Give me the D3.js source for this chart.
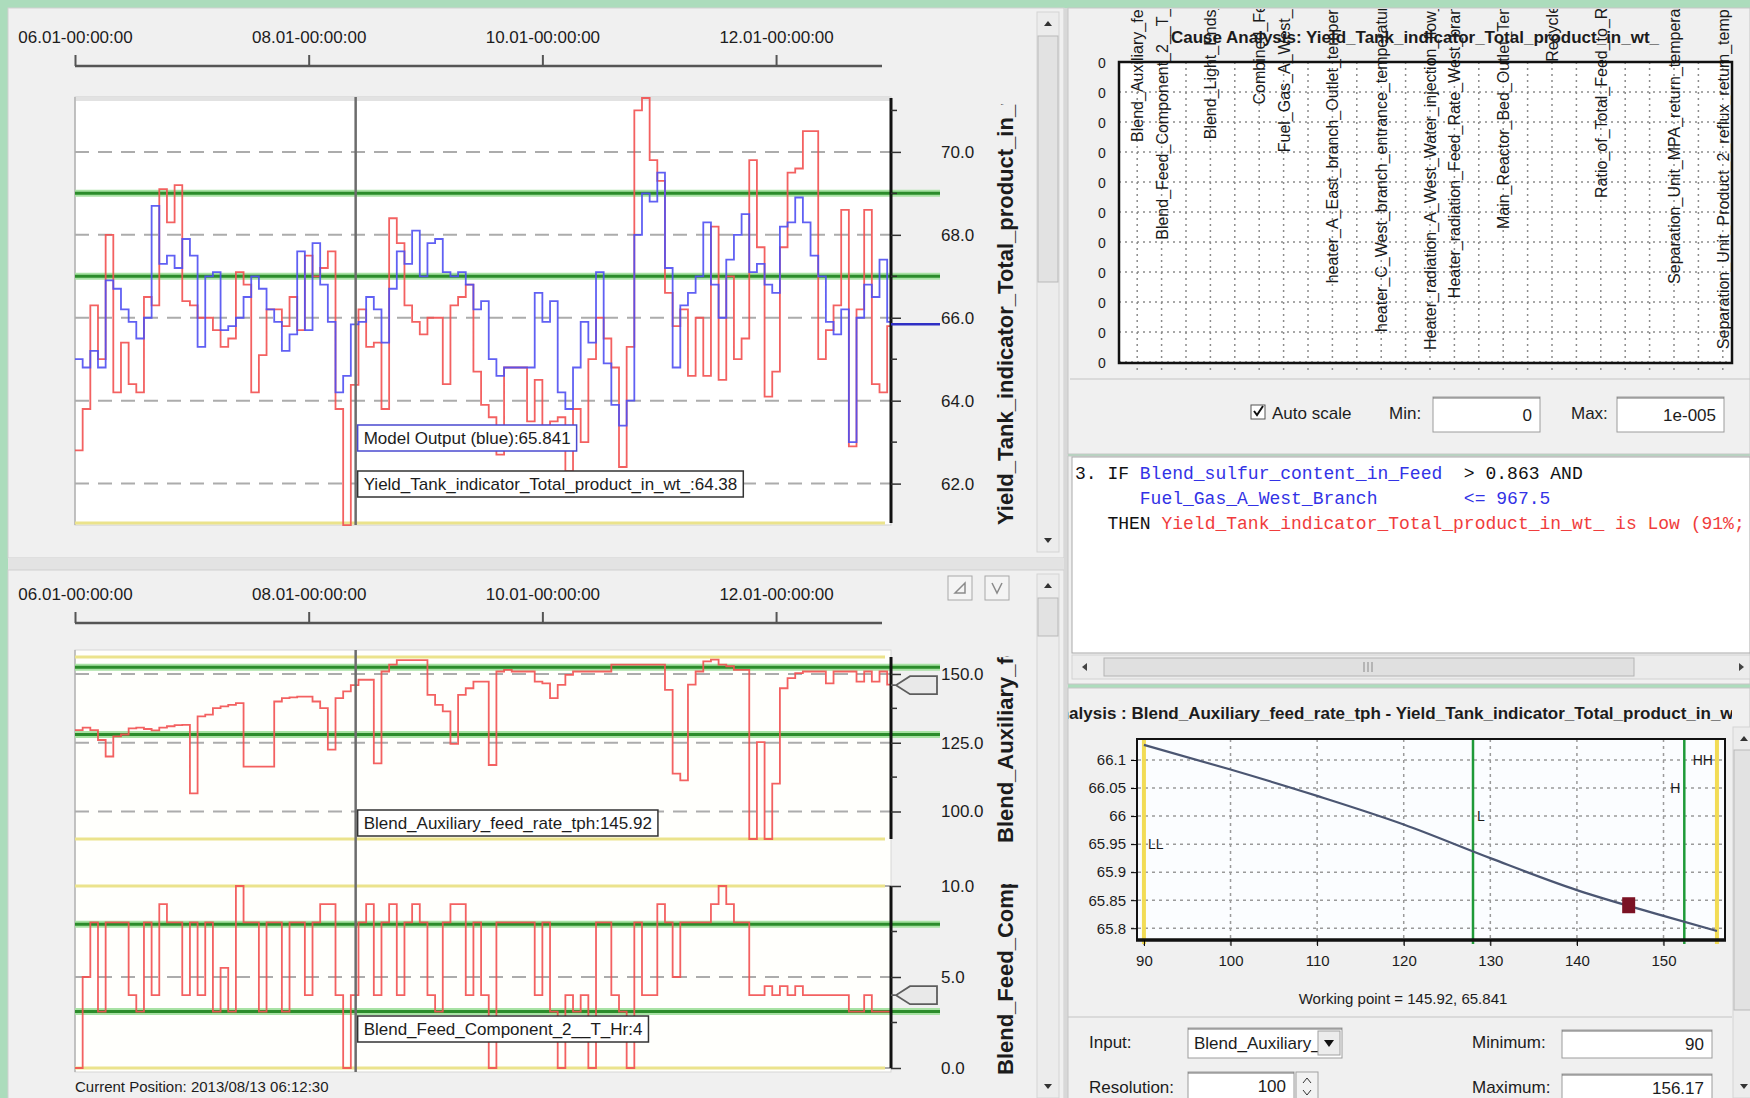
<!DOCTYPE html>
<html lang="en">
<head>
<meta charset="UTF-8">
<title>Yield Tank indicator - trends, cause and sensitivity analysis</title>
<script src="https://d3js.org/d3.v7.min.js"></script>
<style>
  body { margin: 0; background: #acdcbc; }
  svg { display: block; }
  .ui { font-family: "Liberation Sans Narrow", "Liberation Sans", Arial, sans-serif; font-size: 17px; fill: #1c1c1c; }
  .axis-title { font-family: "Liberation Sans", Arial, sans-serif; font-weight: bold; font-size: 22px; fill: #1c1c1c; }
  .head { font-family: "Liberation Sans Narrow", "Liberation Sans", Arial, sans-serif; font-weight: bold; font-size: 17px; fill: #1c1c1c; }
  .cause-label { font-family: "Liberation Sans", Arial, sans-serif; font-size: 16px; fill: #1a1a1a; }
  .rule { font-family: "Liberation Mono", "DejaVu Sans Mono", monospace; font-size: 18px; white-space: pre; }
</style>
</head>
<body>
<svg id="screen" width="1750" height="1098"></svg>
<script>
// ---------- values ----------
const trendStart = new Date(2013, 5, 1);
const trendEnd = new Date(2013, 11, 31);
const sampleDays = 2;                       // one value every 2 days
const cursorTime = new Date(2013, 7, 13, 6, 12, 30);
const timeTicks = [new Date(2013, 5, 1), new Date(2013, 7, 1), new Date(2013, 9, 1), new Date(2013, 11, 1)];

// Yield_Tank_indicator_Total_product_in_wt_ (red) and model output (blue)
const yieldActual = [
  62.8, 63.8, 66.3, 65.0, 68.0, 64.2, 65.4, 64.4, 64.2, 66.5,
  66.3, 69.1, 68.3, 69.2, 66.4, 66.3, 66.0, 66.0, 65.7, 65.3,
  65.5, 67.1, 66.8, 64.2, 65.1, 66.2, 66.2, 65.8, 66.5, 65.7,
  67.5, 67.0, 67.2, 67.6, 63.8, 61.0, 64.38, 66.2, 65.3, 65.4,
  63.8, 68.4, 67.8, 66.3, 65.9, 65.6, 66.0, 66.0, 64.4, 66.3,
  66.5, 66.8, 64.7, 63.9, 63.6, 62.7, 64.8, 64.8, 64.8, 63.5,
  64.5, 63.4, 63.5, 63.6, 62.3, 63.8, 63.0, 65.0, 66.0, 65.5,
  64.8, 62.4, 65.3, 71.0, 71.3, 69.8, 69.3, 66.6, 65.8, 66.2,
  64.6, 66.0, 64.6, 68.2, 64.5, 67.0, 65.0, 65.5, 69.8, 67.7,
  64.1, 64.7, 67.7, 69.5, 69.6, 70.5, 70.5, 65.0, 65.7, 66.3,
  68.6, 62.9, 66.2, 68.6, 64.4, 64.2, 65.8
];
const modelOutput = [
  65.0, 64.8, 65.2, 64.8, 66.9, 66.7, 66.2, 65.9, 65.5, 66.0,
  68.7, 67.3, 67.5, 67.2, 67.9, 67.5, 65.3, 67.0, 67.1, 65.7,
  65.8, 66.0, 66.5, 67.0, 66.7, 66.2, 65.9, 65.2, 65.6, 67.6,
  65.7, 67.8, 66.8, 65.9, 64.2, 64.6, 65.841, 65.9, 66.5, 66.2,
  65.4, 66.7, 67.6, 67.3, 68.1, 67.0, 67.8, 67.9, 67.1, 67.0,
  67.1, 66.8, 66.2, 66.4, 65.0, 64.6, 64.8, 64.8, 64.8, 64.8,
  66.6, 65.9, 66.4, 64.2, 63.8, 64.8, 65.9, 65.4, 67.1, 64.9,
  63.9, 63.4, 64.0, 68.0, 69.0, 68.8, 69.5, 67.2, 64.8, 66.3,
  66.6, 67.0, 68.3, 66.8, 66.0, 67.4, 68.0, 68.5, 67.1, 67.3,
  66.8, 66.6, 68.2, 68.3, 68.9, 68.3, 67.5, 67.0, 65.9, 65.6,
  66.2, 63.0, 66.0, 66.8, 66.5, 67.4, 65.9
];
// Blend_Auxiliary_feed_rate_tph
const auxFeedRate = [
  129.6, 130.5, 129.6, 126.0, 120.0, 127.3, 128.0, 130.2, 130.5, 130.0,
  129.5, 130.5, 131.0, 131.4, 131.5, 106.6, 134.6, 135.2, 137.6, 138.2,
  138.8, 139.4, 116.3, 116.3, 116.3, 116.3, 140.0, 141.2, 141.5, 141.8,
  141.8, 140.0, 137.6, 122.5, 141.2, 143.7, 145.92, 147.9, 147.9, 117.5,
  150.9, 153.4, 155.0, 155.0, 155.0, 155.0, 142.4, 138.8, 136.4, 124.6,
  142.4, 144.8, 147.2, 147.2, 116.9, 150.9, 151.5, 150.9, 150.9, 150.9,
  147.2, 146.6, 141.2, 146.0, 149.7, 150.9, 150.9, 150.9, 150.9, 150.9,
  153.4, 153.4, 153.4, 153.4, 153.4, 153.4, 153.4, 144.2, 113.8, 111.3,
  146.1, 150.9, 154.6, 155.2, 153.4, 152.8, 151.5, 151.5, 90.0, 125.2,
  90.0, 110.1, 144.8, 148.5, 150.3, 150.9, 150.9, 150.9, 146.6, 150.9,
  150.9, 150.9, 147.2, 150.9, 147.2, 150.9, 146.1
];
// Blend_Feed_Component_2__T_Hr
const feedComponent = [
  0, 5, 8, 3.1, 8, 8, 8, 4, 3.1, 8,
  4, 9, 8, 8, 4, 8, 4, 8, 3.1, 5.5,
  3.1, 10, 8, 8, 3.1, 8, 8, 3.1, 8, 8,
  4, 8, 9, 9, 4, 0, 4, 8, 9, 4,
  8, 9, 4, 8, 9, 8, 4, 3.1, 8, 9,
  9, 4, 8, 4, 0, 8, 8, 8, 8, 8,
  4, 8, 3.1, 0, 4, 3.1, 4, 0, 8, 8,
  4, 3.1, 0, 8, 4, 4, 9, 8, 5, 8,
  8, 8, 8, 9, 10, 9, 8, 8, 4, 4,
  4.5, 4, 4.5, 4, 4.5, 4, 4, 4, 4, 4,
  4, 3.1, 3.1, 4, 3.1, 3.1, 3.1
];

const yieldRange = [61.05, 71.3];
const yieldTicks = [62, 64, 66, 68, 70];
const yieldLimits = [67.0, 69.0];
const auxRange = [90, 156.17];
const auxTicks = [100, 125, 150];
const auxLimits = [128.0, 152.4];
const compRange = [0, 10];
const compTicks = [0, 5, 10];
const compLimits = [3.1, 7.9];

const modelAtCursor = 65.841;
const actualAtCursor = 64.38;
const auxAtCursor = 145.92;
const compAtCursor = 4;

// cause analysis (all contributions are 0, autoscale max 1e-005)
const causeVars = [
  "Blend_Auxiliary_feed_rate_tph", "Blend_Feed_Component_2__T_Hr_average", "Blend_H2S",
  "Blend_Light_Ends_Feed_ratio", "Blend_API", "Combined_Feed_Density", "Fuel_Gas_A_West_Branch_avg",
  "FG_B_Flow", "heater_A_East_branch_Outlet_temperature_mean", "Htr_B_O2",
  "heater_C_West_branch_entrance_temperature_deviation", "Htr_D_O2",
  "Heater_radiation_A_West_Water_injection_flow_rate_signal",
  "Heater_radiation_Feed_Rate_West_branch_setpoint", "H2_Makeup",
  "Main_Reactor_Bed_Outlet_Temperature_1", "Rx_dP", "Recycle_Gas_Flow", "Quench_F",
  "Ratio_of_Total_Feed_to_Recycle_Gas", "Reflux_R", "Sep_dP",
  "Separation_Unit_MPA_return_temperature_control", "Strip_Stm",
  "Separation_Unit_Product_2_reflux_return_temperature_avg"
];
const causeValues = causeVars.map(() => 0);
const causeMax = 1e-5;

// rule text
const ruleLines = [
  [["3. IF ", "#111"], ["Blend_sulfur_content_in_Feed", "#3232e6"], ["  > 0.863 AND", "#111"]],
  [["      ", "#111"], ["Fuel_Gas_A_West_Branch", "#3232e6"], ["        <= 967.5", "#3232e6"]],
  [["   THEN ", "#111"], ["Yield_Tank_indicator_Total_product_in_wt_ is Low (91%; 12 cases)", "#f03c3c"]]
];

// sensitivity of model output to Blend_Auxiliary_feed_rate_tph
const sensInput = [90, 100, 110, 120, 130, 140, 150, 156.17];
const sensOutput = [66.127, 66.083, 66.036, 65.985, 65.925, 65.868, 65.822, 65.795];
const sensXTicks = [90, 100, 110, 120, 130, 140, 150];
const sensYTicks = [65.8, 65.85, 65.9, 65.95, 66, 66.05, 66.1];
const limitNames = ["LL", "L", "H", "HH"];
const limitValues = [90, 128, 152.4, 156.17];
const limitLabelAt = [65.95, 66, 66.05, 66.1];
const workingPoint = [145.92, 65.841];

// ---------- screen ----------
const svg = d3.select("#screen");

function box(x, y, w, h, fill, stroke) {
  return svg.append("rect").attr("x", x).attr("y", y).attr("width", w).attr("height", h)
    .attr("fill", fill).attr("stroke", stroke || "none");
}
function label(x, y, t, cls, anchor) {
  return svg.append("text").attr("class", cls || "ui").attr("x", x).attr("y", y)
    .attr("text-anchor", anchor || "start").text(t);
}
function vScroll(x, y0, y1, t0, t1) {
  box(x, y0, 22, y1 - y0, "#ececec", "#d4d4d4");
  box(x + 1, t0, 20, t1 - t0, "#e2e2e2", "#b9b9b9");
  svg.append("path").attr("d", `M${x + 7},${y0 + 14}l4,-5l4,5z`).attr("fill", "#333");
  svg.append("path").attr("d", `M${x + 7},${y1 - 14}l4,5l4,-5z`).attr("fill", "#333");
}
function field(x, y, w, h, value) {
  box(x, y, w, h, "#fff", "#9c9c9c");
  svg.append("line").attr("x1", x).attr("x2", x + w).attr("y1", y + 1).attr("y2", y + 1).attr("stroke", "#6e6e6e");
  label(x + w - 8, y + h / 2 + 6, value, "ui", "end");
}

// panels
box(8, 8, 1056, 550, "#f0f0f0", "#cfcfcf");
box(8, 558, 1056, 12, "#e3e3e3");
box(8, 570, 1056, 530, "#f0f0f0", "#cfcfcf");
box(1064, 8, 4, 1092, "#d8d8d8");
box(1068, 8, 682, 446, "#f0f0f0", "#c6c6c6");
box(1068, 456, 682, 228, "#f0f0f0", "#c6c6c6");
box(1068, 688, 682, 412, "#f0f0f0", "#c6c6c6");

vScroll(1037, 12, 552, 36, 282);
vScroll(1037, 574, 1098, 598, 636);

// ---------- trends ----------
const x = d3.scaleTime().domain([trendStart, trendEnd]).range([75, 891]);
const cursorX = x(cursorTime);

function stepPoints(values) {
  const pts = values.map((v, i) => [d3.timeDay.offset(trendStart, i * sampleDays), v]);
  pts.push([trendEnd, values[values.length - 1]]);
  return pts;
}

function timeAxis(y) {
  const g = svg.append("g").attr("transform", `translate(0,${y})`)
    .call(d3.axisTop(x).tickValues(timeTicks).tickSize(11).tickPadding(12)
      .tickFormat(d3.timeFormat("%m.%d-%H:%M:%S")));
  g.attr("font-family", null).attr("font-size", null);
  g.select(".domain").remove();
  g.append("line").attr("x1", 75).attr("x2", 882).attr("stroke", "#555").attr("stroke-width", 2.5);
  g.selectAll(".tick line").attr("stroke", "#555").attr("stroke-width", 2);
  g.selectAll(".tick text").attr("class", "ui");
}

function axisTitle(text, cx, top, bottom) {
  const id = "clip-" + text.slice(0, 12);
  svg.append("clipPath").attr("id", id).append("rect")
    .attr("x", cx - 30).attr("y", top).attr("width", 50).attr("height", bottom - top);
  svg.append("g").attr("clip-path", `url(#${id})`).append("text")
    .attr("class", "axis-title")
    .attr("transform", `translate(${cx + 8},${bottom}) rotate(-90)`)
    .text(text);
}

function trend(o) {
  const y = d3.scaleLinear().domain(o.range).range([o.bottom, o.top]);
  const g = svg.append("g");
  const clipId = "clip-" + o.id;
  svg.append("clipPath").attr("id", clipId).append("rect")
    .attr("x", 75).attr("y", o.top - 3).attr("width", 816).attr("height", o.bottom - o.top + 6);

  g.selectAll(".grid").data(o.ticks).join("line")
    .attr("x1", 75).attr("x2", 891).attr("y1", y).attr("y2", y)
    .attr("stroke", "#acacac").attr("stroke-width", 2).attr("stroke-dasharray", "14,9");
  g.selectAll(".range").data(o.yellow).join("line")
    .attr("x1", 75).attr("x2", 885).attr("y1", y).attr("y2", y)
    .attr("stroke", "#ebe38c").attr("stroke-width", 3);
  g.selectAll(".halo").data(o.limits).join("line")
    .attr("x1", 75).attr("x2", 940).attr("y1", y).attr("y2", y)
    .attr("stroke", "#a8e2a4").attr("stroke-width", 7);
  g.selectAll(".limit").data(o.limits).join("line")
    .attr("x1", 75).attr("x2", 940).attr("y1", y).attr("y2", y)
    .attr("stroke", "#2b8c2b").attr("stroke-width", 3);

  const line = d3.line().curve(d3.curveStepAfter).x(d => x(d[0])).y(d => y(d[1]));
  o.series.forEach(s => {
    g.append("path").datum(stepPoints(s.values))
      .attr("clip-path", `url(#${clipId})`)
      .attr("d", line).attr("fill", "none")
      .attr("stroke", s.color).attr("stroke-width", 1.8).attr("stroke-opacity", 0.9);
  });

  // right axis
  const ax = svg.append("g").attr("transform", "translate(891,0)");
  ax.append("line").attr("y1", o.top).attr("y2", o.bottom).attr("stroke", "#111").attr("stroke-width", 3);
  ax.selectAll(".minor").data(o.minor).join("line")
    .attr("x2", 6).attr("y1", y).attr("y2", y).attr("stroke", "#333").attr("stroke-width", 1.5);
  const a = ax.append("g").call(d3.axisRight(y).tickValues(o.ticks).tickSize(10).tickPadding(40)
    .tickFormat(d3.format(".1f")));
  a.attr("font-family", null).attr("font-size", null);
  a.select(".domain").remove();
  a.selectAll(".tick line").attr("stroke", "#333").attr("stroke-width", 1.5);
  a.selectAll(".tick text").attr("class", "ui");
  return y;
}

function readout(yPos, text, stroke) {
  const t = label(cursorX + 8, yPos, text);
  const w = t.node().getComputedTextLength();
  svg.insert("rect", () => t.node())
    .attr("x", cursorX + 2).attr("y", yPos - 19).attr("width", w + 12).attr("height", 26)
    .attr("fill", "#fff").attr("stroke", stroke).attr("stroke-width", 1.5);
}

function valueTag(yPos) {
  svg.append("path")
    .attr("d", `M891,${yPos}H896L910,${yPos - 9}H937V${yPos + 9}H910L896,${yPos}`)
    .attr("fill", "#e9e9e9").attr("stroke", "#5d5d5d").attr("stroke-width", 1.8);
}

// top trend panel
timeAxis(66);
box(75, 97, 816, 428, "#fff", "#cdcdcd");
box(75, 97, 816, 4, "#e2e2e2");
svg.append("line").attr("x1", 75).attr("x2", 75).attr("y1", 97).attr("y2", 525).attr("stroke", "#9c9c9c");
const yYield = trend({
  id: "yield", top: 98, bottom: 523, range: yieldRange, yellow: [yieldRange[0]], ticks: yieldTicks,
  minor: d3.range(63, 72, 2), limits: yieldLimits,
  series: [{ values: yieldActual, color: "#f25050" }, { values: modelOutput, color: "#4f4ff2" }]
});
svg.append("line").attr("x1", 891).attr("x2", 940).attr("y1", yYield(modelAtCursor)).attr("y2", yYield(modelAtCursor))
  .attr("stroke", "#2f2fc4").attr("stroke-width", 2.5);
svg.append("line").attr("x1", cursorX).attr("x2", cursorX).attr("y1", 97).attr("y2", 525)
  .attr("stroke", "#6c6c6c").attr("stroke-width", 2.5);
readout(444, "Model Output (blue):" + modelAtCursor, "#4a4ad0");
readout(490, "Yield_Tank_indicator_Total_product_in_wt_:" + actualAtCursor, "#333");
axisTitle("Yield_Tank_indicator_Total_product_in_wt_", 1005, 104, 525);

// bottom trend panel
timeAxis(623);
box(75, 650, 816, 422, "#fffffc", "#d6d6d6");
svg.append("line").attr("x1", 75).attr("x2", 75).attr("y1", 650).attr("y2", 1072).attr("stroke", "#9c9c9c");
const yAux = trend({
  id: "aux", top: 657, bottom: 839, range: auxRange, yellow: auxRange, ticks: auxTicks,
  minor: [112.5, 137.5], limits: auxLimits,
  series: [{ values: auxFeedRate, color: "#f25050" }]
});
const yComp = trend({
  id: "comp", top: 886, bottom: 1068, range: compRange, yellow: compRange, ticks: compTicks,
  minor: [2.5, 7.5], limits: compLimits,
  series: [{ values: feedComponent, color: "#f25050" }]
});
valueTag(yAux(auxAtCursor));
valueTag(yComp(compAtCursor));
svg.append("line").attr("x1", cursorX).attr("x2", cursorX).attr("y1", 650).attr("y2", 1072)
  .attr("stroke", "#6c6c6c").attr("stroke-width", 2.5);
readout(829, "Blend_Auxiliary_feed_rate_tph:" + auxAtCursor, "#333");
readout(1035, "Blend_Feed_Component_2__T_Hr:" + compAtCursor, "#333");
axisTitle("Blend_Auxiliary_feed_rate_tph", 1005, 656, 843);
axisTitle("Blend_Feed_Component_2__T_Hr", 1005, 884, 1075);
label(75, 1092, "Current Position: " + d3.timeFormat("%Y/%m/%d %H:%M:%S")(cursorTime)).style("font-size", "15px");

// small toolbar buttons
[948, 985].forEach((bx, i) => {
  box(bx, 576, 24, 24, "#f4f4f4", "#a8a8a8");
  svg.append("path").attr("d", i === 0 ? `M${bx + 7},593l10,-10v10z` : `M${bx + 7},583l5,10l5,-10`)
    .attr("fill", "none").attr("stroke", "#8a8a8a").attr("stroke-width", 1.5);
});

// ---------- cause analysis ----------
const cx = d3.scaleBand().domain(causeVars).range([1125, 1735]);
const cy = d3.scaleLinear().domain([0, causeMax]).range([362, 62]);
const causeTicks = d3.range(0, 11).map(i => i * causeMax / 10);

svg.append("clipPath").attr("id", "clip-cause").append("rect")
  .attr("x", 1070).attr("y", 9).attr("width", 680).attr("height", 370);
const cg = svg.append("g").attr("clip-path", "url(#clip-cause)");
cg.append("rect").attr("x", 1119).attr("y", 62).attr("width", 613).attr("height", 300).attr("fill", "#fff");
cg.selectAll(".hgrid").data(causeTicks).join("line")
  .attr("x1", 1119).attr("x2", 1732).attr("y1", cy).attr("y2", cy)
  .attr("stroke", "#8c8c8c").attr("stroke-width", 1.5).attr("stroke-dasharray", "2,4");
cg.selectAll(".vgrid").data(causeVars).join("line")
  .attr("x1", d => cx(d) + cx.bandwidth() / 2).attr("x2", d => cx(d) + cx.bandwidth() / 2)
  .attr("y1", 62).attr("y2", 370)
  .attr("stroke", "#8c8c8c").attr("stroke-width", 1.5).attr("stroke-dasharray", "2,4");
cg.selectAll(".bar").data(causeVars).join("rect")
  .attr("x", d => cx(d) + 4).attr("width", cx.bandwidth() - 8)
  .attr("y", (d, i) => cy(causeValues[i])).attr("height", (d, i) => cy(0) - cy(causeValues[i]))
  .attr("fill", "#4466cc");
cg.selectAll(".cause-label").data(causeVars).join("text")
  .attr("class", "cause-label")
  .attr("transform", d => `translate(${cx(d) + cx.bandwidth() / 2 + 6},-76) rotate(-90)`)
  .attr("text-anchor", "end")
  .text(d => d);
cg.append("rect").attr("x", 1119).attr("y", 62).attr("width", 613).attr("height", 301)
  .attr("fill", "none").attr("stroke", "#111").attr("stroke-width", 2.5);
svg.selectAll(".cause-tick").data(causeTicks).join("text")
  .attr("class", "ui").attr("x", 1102).attr("y", d => cy(d) + 6).attr("text-anchor", "middle")
  .style("font-size", "14px")
  .text(d3.format(".0f"));
label(1415, 43, "Cause Analysis: Yield_Tank_indicator_Total_product_in_wt_", "head", "middle");

svg.append("line").attr("x1", 1070).attr("x2", 1750).attr("y1", 379).attr("y2", 379).attr("stroke", "#c4c4c4");
box(1251, 405, 14, 14, "#fff", "#555");
svg.append("path").attr("d", "M1254,411l3,4l6,-9").attr("fill", "none").attr("stroke", "#111").attr("stroke-width", 2);
label(1272, 419, "Auto scale");
label(1389, 419, "Min:");
field(1433, 397, 107, 35, "0");
label(1571, 419, "Max:");
field(1617, 397, 107, 35, "1e-005");

// ---------- rule ----------
box(1072, 457, 678, 196, "#fff", "#a9a9a9");
const rule = svg.append("g");
ruleLines.forEach((parts, i) => {
  const t = rule.append("text").attr("class", "rule").attr("x", 1075).attr("y", 479 + i * 25);
  parts.forEach(p => t.append("tspan").attr("fill", p[1]).text(p[0]));
});
box(1072, 655, 678, 24, "#ececec", "#d2d2d2");
box(1104, 658, 530, 18, "#e0e0e0", "#b4b4b4");
svg.append("path").attr("d", "M1082,667l5,-4v8z").attr("fill", "#444");
svg.append("path").attr("d", "M1744,667l-5,-4v8z").attr("fill", "#444");
svg.append("path").attr("d", "M1364,662v10M1368,662v10M1372,662v10").attr("stroke", "#8a8a8a");

// ---------- sensitivity ----------
svg.append("clipPath").attr("id", "clip-sens-title").append("rect")
  .attr("x", 1068).attr("y", 696).attr("width", 664).attr("height", 30);
svg.append("g").attr("clip-path", "url(#clip-sens-title)").append("text")
  .attr("class", "head").attr("x", 1353).attr("y", 719).attr("text-anchor", "middle")
  .text("Sensitivity Analysis : Blend_Auxiliary_feed_rate_tph - Yield_Tank_indicator_Total_product_in_wt_");
vScroll(1733, 727, 1098, 750, 1010);

const sx = d3.scaleLinear().domain([89.2, 157.1]).range([1137, 1725]);
const sy = d3.scaleLinear().domain([65.779, 66.1375]).range([940, 739]);
box(1137, 739, 588, 201, "#fbfdff");
svg.selectAll(".sgx").data(sensXTicks).join("line")
  .attr("x1", sx).attr("x2", sx).attr("y1", 739).attr("y2", 946)
  .attr("stroke", "#9a9a9a").attr("stroke-width", 1.5).attr("stroke-dasharray", "3,4");
svg.selectAll(".sgy").data(sensYTicks).join("line")
  .attr("x1", 1131).attr("x2", 1725).attr("y1", sy).attr("y2", sy)
  .attr("stroke", "#9a9a9a").attr("stroke-width", 1.5).attr("stroke-dasharray", "3,4");
svg.selectAll(".slim").data(limitValues).join("line")
  .attr("x1", sx).attr("x2", sx).attr("y1", 739).attr("y2", 944)
  .attr("stroke", (d, i) => (i === 0 || i === 3) ? "#f2dc55" : "#1f9a38")
  .attr("stroke-width", (d, i) => (i === 0 || i === 3) ? 4 : 2.5);
svg.selectAll(".slab").data(limitNames).join("text")
  .attr("class", "ui").style("font-size", "14px")
  .attr("x", (d, i) => sx(limitValues[i]) + (i < 2 ? 4 : -4))
  .attr("y", (d, i) => sy(limitLabelAt[i]) + 5)
  .attr("text-anchor", (d, i) => i < 2 ? "start" : "end")
  .text(d => d);
svg.append("path").datum(sensInput.map((v, i) => [v, sensOutput[i]]))
  .attr("d", d3.line().curve(d3.curveMonotoneX).x(d => sx(d[0])).y(d => sy(d[1])))
  .attr("fill", "none").attr("stroke", "#4b5672").attr("stroke-width", 2.2);
svg.append("rect").attr("x", sx(workingPoint[0]) - 6).attr("y", sy(workingPoint[1]) - 8)
  .attr("width", 13).attr("height", 16).attr("fill", "#7b1224");
box(1137, 739, 588, 201, "none", "#111").attr("stroke-width", 2);
svg.append("line").attr("x1", 1136).attr("x2", 1726).attr("y1", 940).attr("y2", 940).attr("stroke", "#111").attr("stroke-width", 3.5);

const syAxis = svg.append("g").attr("transform", "translate(1137,0)")
  .call(d3.axisLeft(sy).tickValues(sensYTicks).tickSize(6).tickPadding(5).tickFormat(d => String(+d.toFixed(2))));
const sxAxis = svg.append("g").attr("transform", "translate(0,940)")
  .call(d3.axisBottom(sx).tickValues(sensXTicks).tickSize(6).tickPadding(9));
[syAxis, sxAxis].forEach(a => {
  a.attr("font-family", null).attr("font-size", null);
  a.select(".domain").remove();
  a.selectAll(".tick text").attr("class", "ui").style("font-size", "15px");
});
label(1403, 1004, `Working point = ${workingPoint[0]}, ${workingPoint[1]}`, "ui", "middle").style("font-size", "15px");

svg.append("line").attr("x1", 1068).attr("x2", 1732).attr("y1", 1017).attr("y2", 1017).attr("stroke", "#c4c4c4");
label(1089, 1048, "Input:");
field(1188, 1028, 154, 30, "");
label(1194, 1049, "Blend_Auxiliary_");
box(1318, 1031, 22, 24, "#ececec", "#a0a0a0");
svg.append("path").attr("d", "M1324,1040h10l-5,7z").attr("fill", "#111");
label(1472, 1048, "Minimum:");
field(1562, 1030, 150, 28, "90");
label(1089, 1093, "Resolution:");
field(1188, 1072, 106, 28, "100");
box(1296, 1072, 22, 28, "#f2f2f2", "#a0a0a0");
svg.append("path").attr("d", "M1303,1083l4,-5l4,5M1303,1090l4,5l4,-5").attr("fill", "none").attr("stroke", "#333");
label(1472, 1093, "Maximum:");
field(1562, 1074, 150, 28, "156.17");
</script>
</body>
</html>
